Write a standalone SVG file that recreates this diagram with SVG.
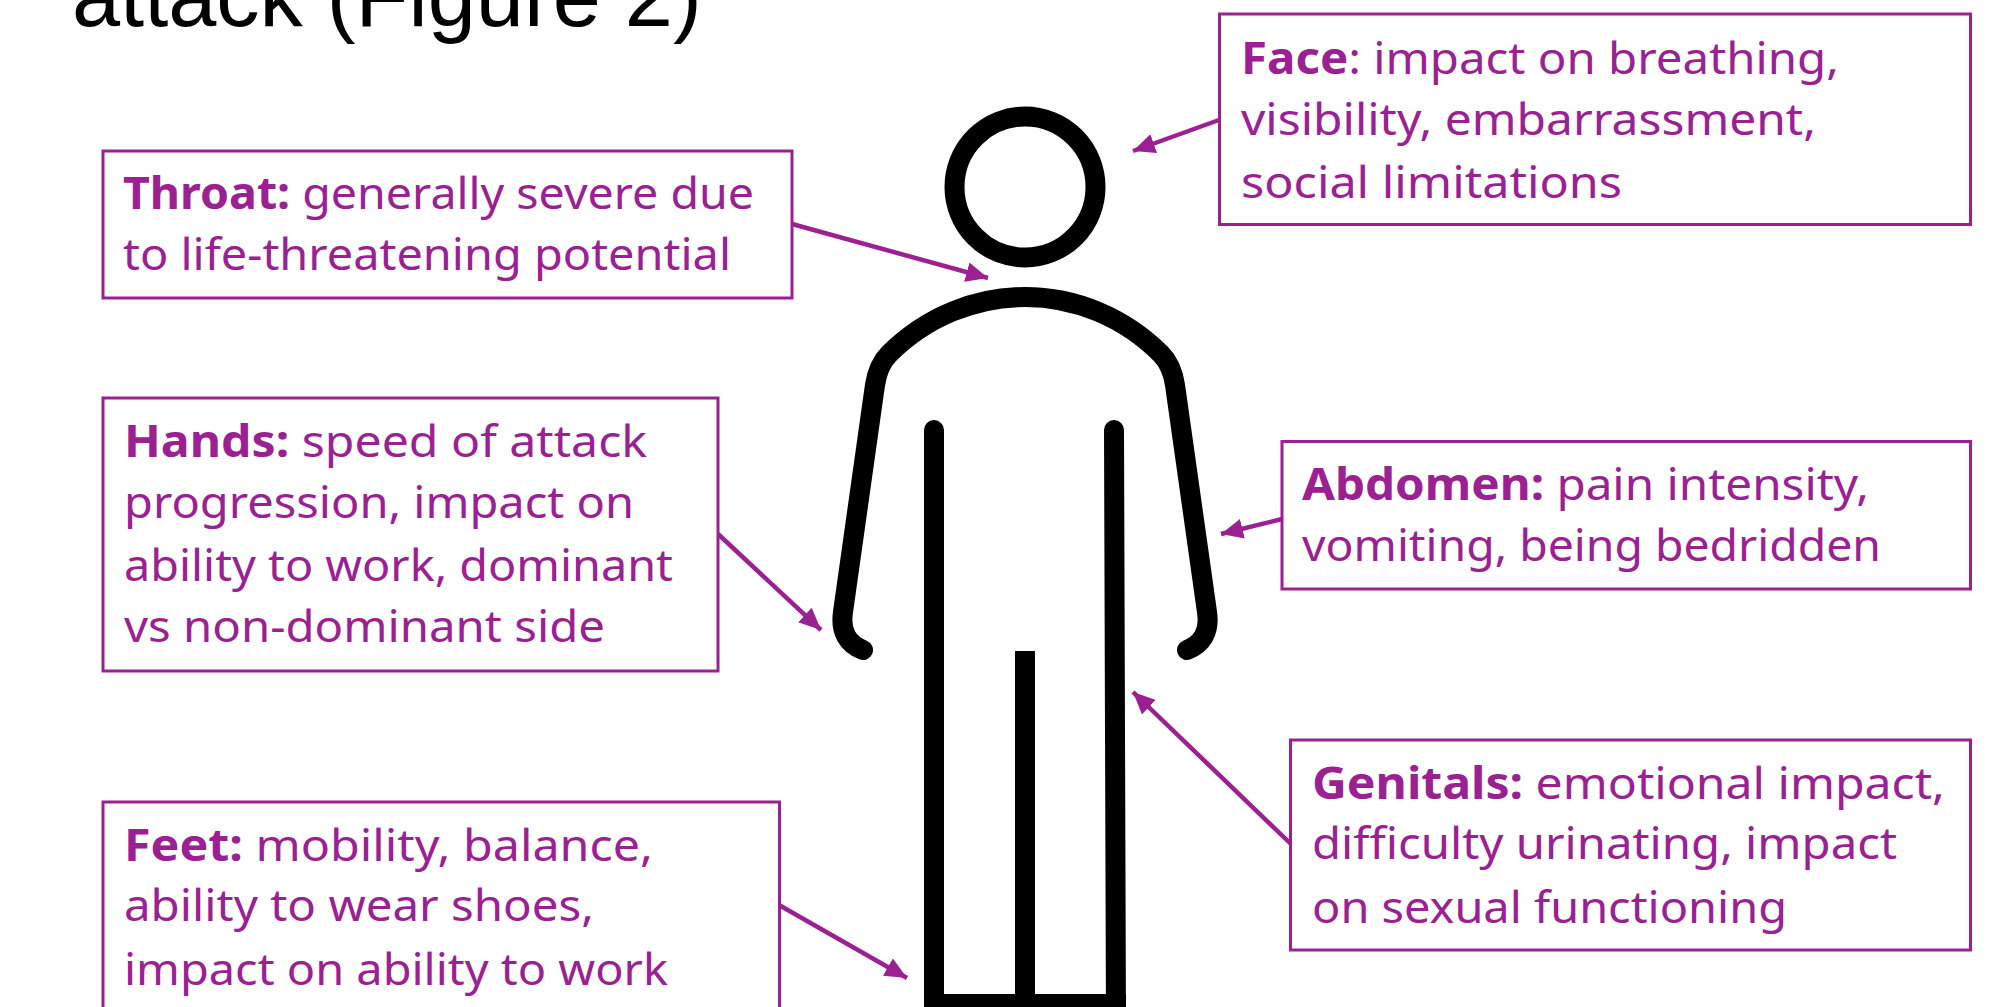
<svg xmlns="http://www.w3.org/2000/svg" width="2000" height="1007" viewBox="0 0 2000 1007">
<style>
.box{fill:#fff;stroke:#9B2193;stroke-width:3}
.t{font-family:"Noto Sans",sans-serif;font-size:44px;fill:#9B2193}
.t tspan{font-weight:700}
.title{font-family:"Liberation Sans",Arial,sans-serif;font-size:86.5px;fill:#000}
.fig{fill:none;stroke:#000;stroke-width:20}
.arr{fill:none;stroke:#9B2193;stroke-width:4.5;marker-end:url(#ah)}
</style>
<defs><marker id="ah" markerUnits="userSpaceOnUse" markerWidth="24" markerHeight="22" refX="22" refY="10" orient="auto"><path d="M0 0L22 10L0 20Z" fill="#9B2193"/></marker></defs>
<rect width="2000" height="1007" fill="#fff"/>
<text class="title" x="72" y="26">attack (Figure 2)</text>
<g id="figure">
<circle class="fig" cx="1025" cy="187" r="70.5"/>
<path class="fig" stroke-width="21" stroke-linecap="round" d="M863 650C848 644 840 632 843 612L875 385C877 372 881 362 889 354C926 317 975 297 1025 297C1075 297 1124 317 1161 354C1169 362 1173 372 1175 385L1207 612C1210 632 1202 644 1187 650"/>
<path class="fig" stroke-linecap="round" d="M934 430V1030"/>
<path class="fig" stroke-linecap="round" d="M1114 430L1116 1030"/>
<path class="fig" d="M1025 651V1000M924 1004H1126"/>
</g>
<g id="connectors">
<path class="arr" d="M792 224L988 278"/>
<path class="arr" d="M1219 120L1133 151"/>
<path class="arr" d="M1282 519L1221 534"/>
<path class="arr" d="M718 534L821 630"/>
<path class="arr" d="M779 905L907 978"/>
<path class="arr" d="M1292 845L1133 692"/>
</g>
<g id="face"><rect class="box" x="1219.5" y="14" width="751" height="210.5"/>
<text class="t" x="1241" y="74" textLength="598" lengthAdjust="spacingAndGlyphs"><tspan>Face</tspan>: impact on breathing,</text>
<text class="t" x="1241" y="135" textLength="575" lengthAdjust="spacingAndGlyphs">visibility, embarrassment,</text>
<text class="t" x="1241" y="198" textLength="381" lengthAdjust="spacingAndGlyphs">social limitations</text></g>
<g id="throat"><rect class="box" x="103" y="151" width="689" height="147"/>
<text class="t" x="123" y="209" textLength="631" lengthAdjust="spacingAndGlyphs"><tspan>Throat:</tspan> generally severe due</text>
<text class="t" x="123" y="270" textLength="608" lengthAdjust="spacingAndGlyphs">to life-threatening potential</text></g>
<g id="hands"><rect class="box" x="103" y="398" width="615" height="273"/>
<text class="t" x="124" y="457" textLength="523" lengthAdjust="spacingAndGlyphs"><tspan>Hands:</tspan> speed of attack</text>
<text class="t" x="124" y="518" textLength="510" lengthAdjust="spacingAndGlyphs">progression, impact on</text>
<text class="t" x="124" y="581" textLength="549" lengthAdjust="spacingAndGlyphs">ability to work, dominant</text>
<text class="t" x="124" y="642" textLength="481" lengthAdjust="spacingAndGlyphs">vs non-dominant side</text></g>
<g id="feet"><rect class="box" x="103" y="802" width="676.5" height="210"/>
<text class="t" x="124" y="861" textLength="529" lengthAdjust="spacingAndGlyphs"><tspan>Feet:</tspan> mobility, balance,</text>
<text class="t" x="124" y="921" textLength="470" lengthAdjust="spacingAndGlyphs">ability to wear shoes,</text>
<text class="t" x="124" y="985" textLength="544" lengthAdjust="spacingAndGlyphs">impact on ability to work</text></g>
<g id="abdomen"><rect class="box" x="1282" y="441.5" width="688.5" height="147.5"/>
<text class="t" x="1302" y="500" textLength="567" lengthAdjust="spacingAndGlyphs"><tspan>Abdomen:</tspan> pain intensity,</text>
<text class="t" x="1302" y="561" textLength="579" lengthAdjust="spacingAndGlyphs">vomiting, being bedridden</text></g>
<g id="genitals"><rect class="box" x="1290.5" y="740" width="680" height="210"/>
<text class="t" x="1312" y="799" textLength="633" lengthAdjust="spacingAndGlyphs"><tspan>Genitals:</tspan> emotional impact,</text>
<text class="t" x="1312" y="859" textLength="585" lengthAdjust="spacingAndGlyphs">difficulty urinating, impact</text>
<text class="t" x="1312" y="923" textLength="475" lengthAdjust="spacingAndGlyphs">on sexual functioning</text></g>
</svg>
